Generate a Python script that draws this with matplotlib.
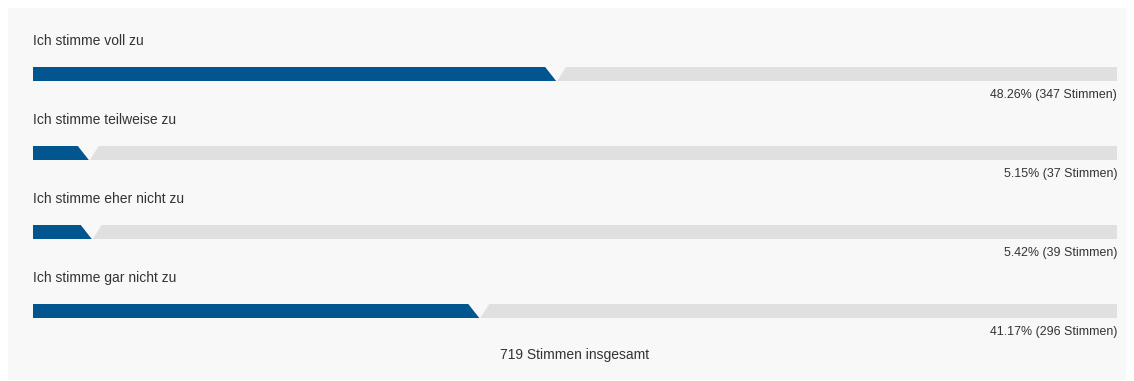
import matplotlib.pyplot as plt
from matplotlib.patches import Polygon, Rectangle

# poll results
answers = ["Ich stimme voll zu", "Ich stimme teilweise zu",
           "Ich stimme eher nicht zu", "Ich stimme gar nicht zu"]
percent = [48.26, 5.15, 5.42, 41.17]
votes = [347, 37, 39, 296]
total = 719

W, H = 1134, 381
BLUE = "#02568f"
TRACK = "#e0e0e0"
TXT = "#333333"

plt.rcParams['font.family'] = ['Liberation Sans', 'DejaVu Sans']

fig = plt.figure(figsize=(W / 100, H / 100), dpi=100)
fig.patch.set_facecolor("white")

# panel background
bg = fig.add_axes([0, 0, 1, 1])
bg.set_xlim(0, W)
bg.set_ylim(H, 0)
bg.axis("off")
bg.add_patch(Rectangle((8, 8), 1118, 372, facecolor="#f8f8f8", edgecolor="none"))

# bar area: x is percent, y is pixel rows
ax = fig.add_axes([33 / W, 0, 1084 / W, 1])
ax.set_xlim(0, 100)
ax.set_ylim(H, 0)
ax.axis("off")
ax.patch.set_alpha(0)

px = 100 / 1084  # one pixel in percent units
bar_h = 14
row = 79
for i, (name, p, n) in enumerate(zip(answers, percent, votes)):
    y0 = 41 + i * row
    top = y0 + 26
    bot = top + bar_h
    ax.text(0, y0, name, ha="left", va="center", fontsize=10, color=TXT)
    # filled part with slanted end
    ax.add_patch(Polygon([(0, top), (p - 11 * px, top), (p, bot), (0, bot)],
                         closed=True, facecolor=BLUE, edgecolor="none"))
    # remaining track
    ax.add_patch(Polygon([(p + 1 * px, bot), (p + 10 * px, top), (100, top), (100, bot)],
                         closed=True, facecolor=TRACK, edgecolor="none"))
    ax.text(100, bot + 14, f"{p:.2f}% ({n} Stimmen)", ha="right", va="center",
            fontsize=8.9, color=TXT)

ax.text(50, 355, f"{total} Stimmen insgesamt", ha="center", va="center",
        fontsize=10, color=TXT)

fig.savefig("out.png", dpi=100)
